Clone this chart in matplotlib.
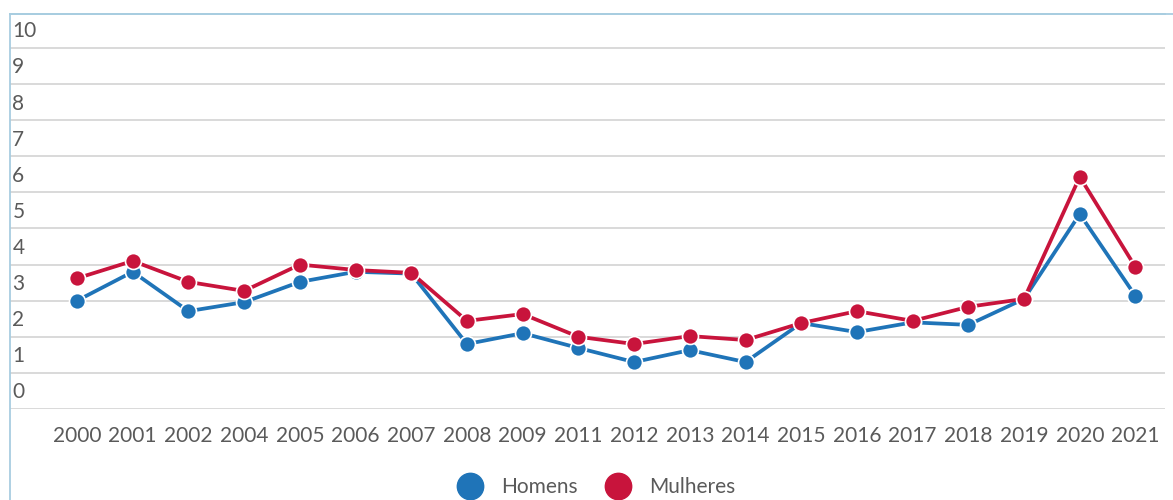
import numpy as np
import matplotlib
matplotlib.use('Agg')
import matplotlib.pyplot as plt
from matplotlib.lines import Line2D

years = ['2000', '2001', '2002', '2004', '2005', '2006', '2007', '2008', '2009', '2011',
         '2012', '2013', '2014', '2015', '2016', '2017', '2018', '2019', '2020', '2021']
homens = [3.0, 3.8, 2.71, 2.96, 3.52, 3.8, 3.75, 1.8, 2.1, 1.69,
          1.3, 1.63, 1.3, 2.38, 2.13, 2.4, 2.33, 3.05, 5.4, 3.13]
mulheres = [3.62, 4.1, 3.52, 3.27, 4.0, 3.85, 3.77, 2.44, 2.63, 2.0,
            1.8, 2.02, 1.91, 2.38, 2.71, 2.44, 2.83, 3.05, 6.43, 3.93]
y_ticks = list(range(0, 11))

blue = '#1f74b8'
red = '#c8143c'
border = '#a8cde0'
text_col = '#5a5a5a'

plt.rcParams['font.family'] = ['Lato', 'DejaVu Sans']

fig = plt.figure(figsize=(11.73, 5.0), dpi=100)
ax = fig.add_axes([10 / 1173, 91 / 500, 1155 / 1173, 395 / 500])

x = np.arange(len(years))
ax.plot(x, homens, color=blue, lw=2.7, marker='o', markersize=11.5,
        markeredgecolor='white', markeredgewidth=1.2, zorder=3)
ax.plot(x, mulheres, color=red, lw=2.7, marker='o', markersize=11.5,
        markeredgecolor='white', markeredgewidth=1.2, zorder=4)

ax.set_xlim(-1.203, 19.53)
ax.set_ylim(0, 10.94)
ax.set_xticks(x)
ax.set_xticklabels(years, fontsize=15, color=text_col)
ax.tick_params(axis='x', length=0, pad=12)

ax.set_yticks(y_ticks)
ax.set_yticklabels([])
ax.tick_params(axis='y', length=0)
ax.grid(axis='y', color='#d9d9d9', lw=1.4)
ax.set_axisbelow(True)

# value labels sit above their grid line
for v in y_ticks:
    ax.text(0.002, v + 0.46, str(v), transform=ax.get_yaxis_transform(),
            ha='left', va='center', fontsize=15, color=text_col)

for s in ['right', 'bottom', 'left']:
    ax.spines[s].set_visible(False)
ax.spines['top'].set_color(border)
ax.spines['top'].set_linewidth(1.3)
fig.add_artist(Line2D([10 / 1173, 1.0], [486 / 500, 486 / 500], color=border, lw=1.3))
fig.add_artist(Line2D([10 / 1173, 10 / 1173], [0, 486 / 500], color=border, lw=1.3))

handles = [Line2D([], [], ls='none', marker='o', markersize=19, color=blue, label='Homens'),
           Line2D([], [], ls='none', marker='o', markersize=19, color=red, label='Mulheres')]
leg = fig.legend(handles=handles, loc='center', bbox_to_anchor=(0.505, 0.026), ncol=2,
                 frameon=False, fontsize=15, handletextpad=0.5, columnspacing=0.9)
for t in leg.get_texts():
    t.set_color(text_col)

fig.savefig('out.png', dpi=100)
